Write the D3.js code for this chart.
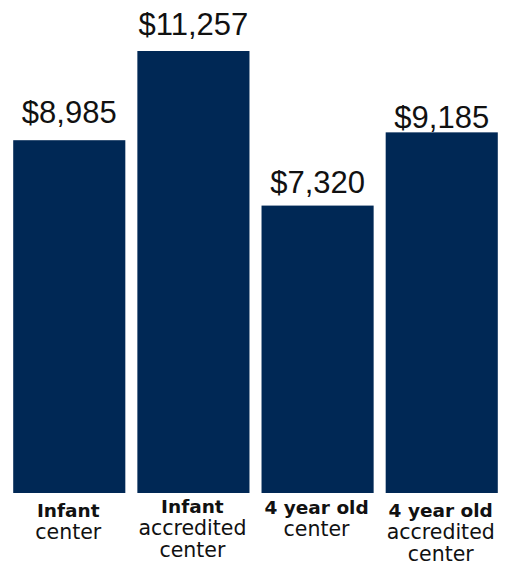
<!DOCTYPE html>
<html>
<head>
<meta charset="utf-8">
<script src="https://cdn.jsdelivr.net/npm/d3@7"></script>
<style>
  html, body { margin: 0; padding: 0; background: #ffffff; }
  svg { display: block; }
</style>
</head>
<body>
<svg id="chart" width="505" height="567"></svg>
<script>
// ---- data ----
const categories = ["Infant center", "Infant accredited center", "4 year old center", "4 year old accredited center"];
const boldLines = ["Infant", "Infant", "4 year old", "4 year old"];
const restLines = [["center"], ["accredited", "center"], ["center"], ["accredited", "center"]];
const values = [8985, 11257, 7320, 9185];
const valueLabels = ["$8,985", "$11,257", "$7,320", "$9,185"];

// ---- layout ----
const W = 505, H = 567;
const baseY = 493, topY = 51;
const barColor = "#002855";
const labelGap = [17, 16, 13, 4];      // gap between value label baseline and bar top
const catFirstGap = [24, 20, 21, 24];  // first category line baseline below axis
const lineH = 22;

const svg = d3.select("#chart");

const x = d3.scaleBand()
  .domain(categories)
  .range([7, 504])
  .paddingInner(0.097)
  .paddingOuter(0.05);

const y = d3.scaleLinear()
  .domain([0, d3.max(values)])
  .range([baseY, topY]);

const data = categories.map((c, i) => ({ c, v: values[i], lbl: valueLabels[i], i }));

svg.append("g").selectAll("rect")
  .data(data)
  .join("rect")
  .attr("x", d => x(d.c))
  .attr("y", d => y(d.v))
  .attr("width", x.bandwidth())
  .attr("height", d => y(0) - y(d.v))
  .attr("fill", barColor);

svg.append("g").selectAll("text")
  .data(data)
  .join("text")
  .attr("x", d => x(d.c) + x.bandwidth() / 2)
  .attr("y", d => y(d.v) - labelGap[d.i])
  .attr("text-anchor", "middle")
  .attr("font-family", "'Liberation Sans', Arial, sans-serif")
  .attr("font-size", 31)
  .attr("fill", "#111")
  .text(d => d.lbl);

const catG = svg.append("g");
data.forEach(d => {
  const cx = x(d.c) + x.bandwidth() / 2 - 1;
  const y0 = y(0) + catFirstGap[d.i];
  const t = catG.append("text")
    .attr("text-anchor", "middle")
    .attr("font-family", "'DejaVu Sans', Verdana, sans-serif")
    .attr("fill", "#111");
  t.append("tspan")
    .attr("x", cx).attr("y", y0)
    .attr("font-weight", "bold")
    .attr("font-size", 18.5)
    .text(boldLines[d.i]);
  restLines[d.i].forEach((ln, k) => {
    t.append("tspan")
      .attr("x", cx).attr("y", y0 + lineH * (k + 1))
      .attr("font-size", 20.5)
      .text(ln);
  });
});
</script>
</body>
</html>
